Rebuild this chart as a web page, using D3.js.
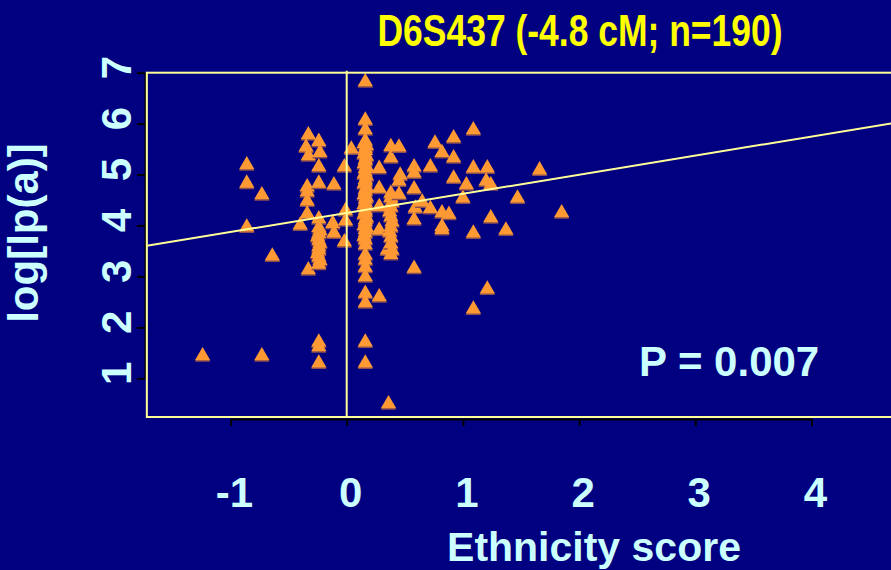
<!DOCTYPE html>
<html>
<head>
<meta charset="utf-8">
<script src="https://d3js.org/d3.v7.min.js"></script>
<style>
  body { margin: 0; background: #000080; }
  svg text { font-family: "Liberation Sans", Arial, sans-serif; font-weight: bold; }
</style>
</head>
<body>
<svg id="chart" width="891" height="570"></svg>
<script>
// values: [ethnicity score, log Lp(a)]
var points = [
  [-1.24,1.44],[-0.73,1.44],[-0.86,5.19],[-0.86,4.83],[-0.73,4.60],[-0.86,3.97],[-0.64,3.40],
  [-0.33,5.78],[-0.35,5.54],[-0.33,5.37],[-0.34,4.76],[-0.34,4.66],[-0.34,4.48],[-0.34,4.23],[-0.40,4.01],[-0.33,3.13],
  [-0.24,5.65],[-0.23,5.43],[-0.24,5.15],[-0.24,4.83],[-0.24,4.13],
  [-0.24,3.96],[-0.23,3.90],[-0.24,3.84],[-0.25,3.78],[-0.24,3.71],[-0.23,3.65],[-0.24,3.58],[-0.24,3.52],
  [-0.25,3.45],[-0.24,3.38],[-0.23,3.31],[-0.24,3.24],
  [-0.24,1.71],[-0.24,1.62],[-0.24,1.30],
  [-0.11,4.80],[-0.12,4.04],[-0.11,3.85],
  [-0.02,5.15],[-0.01,4.29],[-0.01,4.09],[-0.02,3.68],
  [0.04,5.50],
  [0.16,6.82],[0.16,6.07],[0.16,5.88],
  [0.16,5.66],[0.15,5.61],[0.17,5.57],[0.16,5.51],[0.16,5.47],[0.15,5.40],[0.17,5.36],[0.16,5.30],
  [0.16,5.27],[0.15,5.21],[0.17,5.15],[0.16,5.12],[0.16,5.05],[0.15,5.01],[0.17,4.97],[0.16,4.90],
  [0.16,4.86],[0.15,4.82],[0.17,4.75],[0.16,4.71],[0.16,4.67],[0.15,4.60],[0.17,4.56],[0.16,4.52],
  [0.16,4.45],[0.15,4.41],[0.17,4.37],[0.16,4.30],[0.16,4.26],[0.15,4.22],[0.17,4.15],[0.16,4.11],
  [0.16,4.07],[0.15,4.00],[0.17,3.96],[0.16,3.92],[0.16,3.85],[0.15,3.79],[0.16,3.72],
  [0.16,3.62],[0.16,3.42],[0.16,3.32],[0.16,3.18],[0.16,2.99],[0.16,2.67],[0.16,2.48],[0.16,1.71],[0.16,1.30],
  [0.28,5.12],[0.28,4.73],[0.28,4.37],[0.28,3.91],[0.28,2.60],
  [0.35,3.52],[0.36,0.50],
  [0.38,5.55],[0.38,5.33],[0.38,4.63],
  [0.38,4.55],[0.39,4.46],[0.38,4.36],[0.37,4.27],[0.38,4.17],[0.39,4.07],[0.38,3.97],[0.37,3.87],
  [0.38,3.77],[0.38,3.64],[0.39,3.52],[0.38,3.43],
  [0.45,5.54],[0.46,4.99],[0.45,4.87],[0.45,4.61],
  [0.58,5.15],[0.58,5.03],[0.58,4.72],[0.59,4.34],[0.58,4.11],[0.58,3.16],[0.65,4.46],
  [0.72,5.15],[0.72,4.33],
  [0.76,5.62],[0.82,5.43],[0.82,4.25],[0.88,4.22],[0.82,3.98],[0.82,3.92],
  [0.92,5.72],[0.92,5.33],[0.92,4.93],
  [1.00,4.54],[1.03,4.80],
  [1.09,5.88],[1.09,5.13],[1.09,3.85],[1.09,2.36],
  [1.21,5.13],[1.20,4.87],[1.24,4.80],[1.24,4.15],[1.21,2.75],
  [1.37,3.91],[1.47,4.54],[1.66,5.09],[1.85,4.25]
];
var xTicks = [-1, 0, 1, 2, 3, 4];
var yTicks = [1, 2, 3, 4, 5, 6, 7];
var fitIntercept = 4.247, fitSlope = 0.375;
var boxX = [-1.72, 4.85], boxY = [0.24, 7];
var titleText = "D6S437 (-4.8 cM; n=190)";
var pText = "P = 0.007";

var svg = d3.select("#chart");
var x = d3.scaleLinear().domain([-1, 4]).range([230.5, 811.5]);
var y = d3.scaleLinear().domain([1, 7]).range([378.3, 72.7]);

svg.append("rect").attr("width", 891).attr("height", 570).attr("fill", "#000080");

// axes (black ticks, sitting just outside the box)
svg.append("g").attr("transform", "translate(0,419)")
  .call(d3.axisBottom(x).tickValues(xTicks).tickSize(7).tickSizeOuter(0).tickFormat(""));
svg.append("g").attr("transform", "translate(145,0)")
  .call(d3.axisLeft(y).tickValues(yTicks).tickSize(8).tickSizeOuter(0).tickFormat(""));
svg.selectAll(".domain, .tick line").attr("stroke", "#000").attr("stroke-width", 2);

svg.selectAll(".xlab").data(xTicks).enter().append("text")
  .attr("x", function (d) { return x(d) + 4; })
  .attr("y", 507)
  .attr("text-anchor", "middle")
  .attr("font-size", 42)
  .attr("fill", "#CCFFFF")
  .text(function (d) { return d; });

svg.selectAll(".ylab").data(yTicks).enter().append("text")
  .attr("transform", function (d) { return "translate(131," + (y(d) - 5) + ") rotate(-90)"; })
  .attr("text-anchor", "middle")
  .attr("font-size", 42)
  .attr("fill", "#CCFFFF")
  .text(function (d) { return d; });

// clip for the fitted line
svg.append("clipPath").attr("id", "box").append("rect")
  .attr("x", x(boxX[0])).attr("y", y(boxY[1]))
  .attr("width", x(boxX[1]) - x(boxX[0])).attr("height", y(boxY[0]) - y(boxY[1]));

// points: triangles with a darker bottom edge
var tri = d3.symbol().type(d3.symbolTriangle).size(102);
var g = svg.append("g");
points.forEach(function (p) {
  g.append("path").attr("d", tri())
    .attr("transform", "translate(" + x(p[0]) + "," + (y(p[1]) + 1.5) + ")")
    .attr("fill", "#8a4f52");
  g.append("path").attr("d", tri())
    .attr("transform", "translate(" + x(p[0]) + "," + y(p[1]) + ")")
    .attr("fill", "#FF9933");
});

// frame, zero line and regression line
svg.append("rect")
  .attr("x", x(boxX[0])).attr("y", y(boxY[1]))
  .attr("width", x(boxX[1]) - x(boxX[0])).attr("height", y(boxY[0]) - y(boxY[1]))
  .attr("fill", "none").attr("stroke", "#FFFF99").attr("stroke-width", 2);

svg.append("line")
  .attr("x1", x(0)).attr("x2", x(0))
  .attr("y1", y(boxY[1]) - 2).attr("y2", y(boxY[0]))
  .attr("stroke", "#FFFF99").attr("stroke-width", 2);

svg.append("line")
  .attr("clip-path", "url(#box)")
  .attr("x1", x(boxX[0])).attr("y1", y(fitIntercept + fitSlope * boxX[0]))
  .attr("x2", x(boxX[1])).attr("y2", y(fitIntercept + fitSlope * boxX[1]))
  .attr("stroke", "#FFFF99").attr("stroke-width", 2);

// texts
svg.append("text")
  .attr("x", 580).attr("y", 46)
  .attr("text-anchor", "middle")
  .attr("font-size", 44)
  .attr("textLength", 405).attr("lengthAdjust", "spacingAndGlyphs")
  .attr("fill", "#FFFF00")
  .text(titleText);

svg.append("text")
  .attr("x", 639).attr("y", 376)
  .attr("font-size", 42)
  .attr("fill", "#CCFFFF")
  .text(pText);

svg.append("text")
  .attr("x", 594).attr("y", 561)
  .attr("text-anchor", "middle")
  .attr("font-size", 41)
  .attr("fill", "#CCFFFF")
  .text("Ethnicity score");

svg.append("text")
  .attr("transform", "translate(38,233) rotate(-90)")
  .attr("text-anchor", "middle")
  .attr("font-size", 42)
  .attr("fill", "#CCFFFF")
  .text("log[lp(a)]");
</script>
</body>
</html>
